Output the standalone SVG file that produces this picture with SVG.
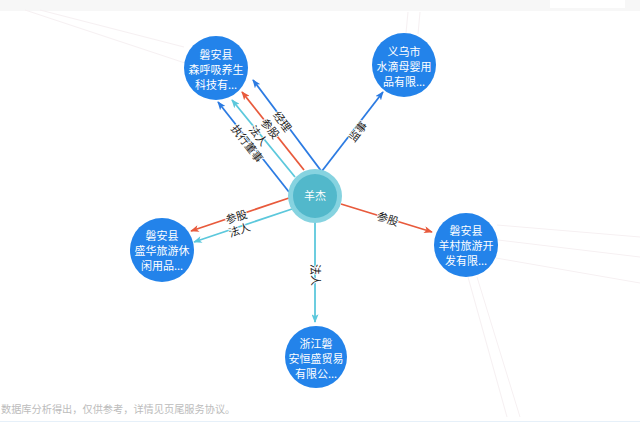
<svg xmlns="http://www.w3.org/2000/svg" width="640" height="423" viewBox="0 0 640 423">
<style>
.node{fill:#2383EA}
.nt{font-family:"Noto Sans CJK SC","Noto Sans",sans-serif;font-size:11px;fill:#fff;text-anchor:middle}
.el{font-family:"Noto Sans CJK SC","Noto Sans",sans-serif;font-size:11px;fill:#222;text-anchor:middle;dominant-baseline:central;paint-order:stroke;stroke:#fff;stroke-width:1.5px}
.e{stroke-width:1.8;fill:none}
.blue{stroke:#2C7BE2}
.red{stroke:#E85A3C}
.cyan{stroke:#5CC8DC}
.faint{stroke:#f6f0f2;stroke-width:1;fill:none}
</style>
<defs>
<marker id="ab" viewBox="0 0 10 8" refX="9" refY="4" markerWidth="9" markerHeight="7" markerUnits="userSpaceOnUse" orient="auto"><path d="M0,0 L10,4 L0,8 L2.5,4 z" fill="#2C7BE2"/></marker>
<marker id="ar" viewBox="0 0 10 8" refX="9" refY="4" markerWidth="9" markerHeight="7" markerUnits="userSpaceOnUse" orient="auto"><path d="M0,0 L10,4 L0,8 L2.5,4 z" fill="#E85A3C"/></marker>
<marker id="ac" viewBox="0 0 10 8" refX="9" refY="4" markerWidth="9" markerHeight="7" markerUnits="userSpaceOnUse" orient="auto"><path d="M0,0 L10,4 L0,8 L2.5,4 z" fill="#5CC8DC"/></marker>
</defs>
<rect width="640" height="423" fill="#fff"/>
<g id="chrome">
<rect x="0" y="0" width="640" height="9" fill="#f7f7f7"/>
<line x1="0" y1="10" x2="640" y2="10" stroke="#efefef"/>
<rect x="550" y="0" width="75" height="8" fill="#fff"/>
<line x1="0" y1="421.5" x2="640" y2="421.5" stroke="#e6f0f9"/>
</g>
<g id="background-lines">
<line class="faint" x1="25" y1="10" x2="185" y2="63"/>
<line class="faint" x1="40" y1="10" x2="184" y2="47"/>
<line class="faint" x1="408" y1="12" x2="406" y2="33"/>
<line class="faint" x1="420" y1="12" x2="418" y2="34"/>
<line class="faint" x1="497" y1="225" x2="640" y2="237"/>
<line class="faint" x1="498" y1="240" x2="640" y2="257"/>
<line class="faint" x1="496" y1="258" x2="640" y2="283"/>
<line class="faint" x1="468" y1="277" x2="507" y2="417"/>
<line class="faint" x1="477" y1="277" x2="520" y2="417"/>
</g>
<g id="connectors">
<line class="e blue" x1="322" y1="172" x2="253" y2="80" marker-end="url(#ab)"/>
<line class="e red" x1="304" y1="170" x2="242" y2="92" marker-end="url(#ar)"/>
<line class="e cyan" x1="295" y1="177" x2="232" y2="100" marker-end="url(#ac)"/>
<line class="e blue" x1="289" y1="192" x2="218" y2="102" marker-end="url(#ab)"/>
<line class="e blue" x1="322" y1="171" x2="383" y2="92" marker-end="url(#ab)"/>
<line class="e red" x1="289" y1="198" x2="191" y2="231" marker-end="url(#ar)"/>
<line class="e cyan" x1="292" y1="209" x2="194" y2="242" marker-end="url(#ac)"/>
<line class="e red" x1="341" y1="204" x2="432" y2="232" marker-end="url(#ar)"/>
<line class="e cyan" x1="315" y1="222" x2="315" y2="322" marker-end="url(#ac)"/>
<text class="el" transform="translate(283,121) rotate(53)">经理</text>
<text class="el" transform="translate(271,128) rotate(51.5)">参股</text>
<text class="el" transform="translate(259,135) rotate(51)">法人</text>
<text class="el" transform="translate(248,143) rotate(52)">执行董事</text>
<text class="el" transform="translate(357,131) rotate(-52)">监事</text>
<text class="el" transform="translate(236,216) rotate(-17)">参股</text>
<text class="el" transform="translate(239,229) rotate(-19)">法人</text>
<text class="el" transform="translate(388,218) rotate(17.5)">参股</text>
<text class="el" transform="translate(316,275) rotate(90)">法人</text>
</g>
<g id="node-center">
<circle cx="315" cy="196" r="27" fill="#86D3E0"/>
<circle cx="315" cy="196" r="22" fill="#52B8CB"/>
<text class="nt" x="315" y="200" font-size="12">羊杰</text>
</g>
<g id="node-a">
<circle class="node" cx="216" cy="68" r="32"/>
<text class="nt" x="216" y="59">磐安县</text>
<text class="nt" x="216" y="74">森呼吸养生</text>
<text class="nt" x="216" y="89">科技有...</text>
</g>
<g id="node-b">
<circle class="node" cx="404" cy="65" r="32"/>
<text class="nt" x="404" y="56">义乌市</text>
<text class="nt" x="404" y="71">水滴母婴用</text>
<text class="nt" x="404" y="86">品有限...</text>
</g>
<g id="node-c">
<circle class="node" cx="162" cy="250" r="32"/>
<text class="nt" x="162" y="240">磐安县</text>
<text class="nt" x="162" y="255">盛华旅游休</text>
<text class="nt" x="162" y="270">闲用品...</text>
</g>
<g id="node-d">
<circle class="node" cx="466" cy="245" r="32"/>
<text class="nt" x="466" y="235">磐安县</text>
<text class="nt" x="466" y="250">羊村旅游开</text>
<text class="nt" x="466" y="265">发有限...</text>
</g>
<g id="node-e">
<circle class="node" cx="316" cy="357" r="31"/>
<text class="nt" x="316" y="348">浙江磐</text>
<text class="nt" x="316" y="363">安恒盛贸易</text>
<text class="nt" x="316" y="378">有限公...</text>
</g>
<text x="1" y="413" font-family="'Noto Sans CJK SC','Noto Sans',sans-serif" font-size="10.2" fill="#bcbcbc">数据库分析得出，仅供参考，详情见页尾服务协议。</text>
</svg>
